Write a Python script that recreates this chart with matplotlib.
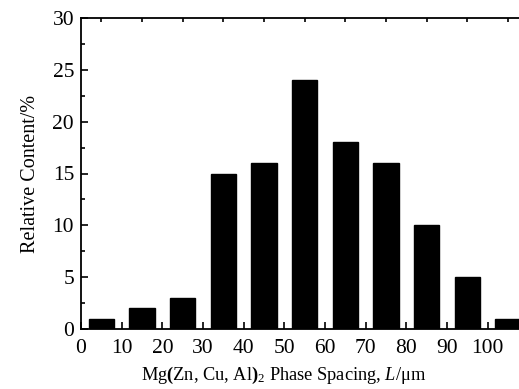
import matplotlib
matplotlib.use('Agg')
import matplotlib.pyplot as plt
from matplotlib.ticker import MultipleLocator

# spacing bins (um) and relative content (%)
spacing = [5, 15, 25, 35, 45, 55, 65, 75, 85, 95, 105]
content = [1, 2, 3, 15, 16, 24, 18, 16, 10, 5, 1]

plt.rcParams['font.family'] = 'Liberation Serif'
plt.rcParams['mathtext.fontset'] = 'custom'
plt.rcParams['mathtext.rm'] = 'Liberation Serif'
plt.rcParams['mathtext.it'] = 'Liberation Serif:italic'
plt.rcParams['mathtext.bf'] = 'Liberation Serif:bold'

fig = plt.figure(figsize=(5.19, 3.89), dpi=100)
ax = fig.add_axes([81/519, 1 - 329/389, 1 - 81/519, (329 - 18)/389])

ax.bar(spacing, content, width=6.2, color='black', edgecolor='black')

ax.set_xlim(0, 107.7)
ax.set_ylim(0, 30)
ax.xaxis.set_major_locator(MultipleLocator(10))
ax.xaxis.set_minor_locator(MultipleLocator(5))
ax.yaxis.set_major_locator(MultipleLocator(5))
ax.yaxis.set_minor_locator(MultipleLocator(2.5))

for s in ['left', 'bottom', 'top']:
    ax.spines[s].set_linewidth(1.3)
ax.spines['right'].set_visible(False)

ax.tick_params(which='both', direction='in', top=True, right=False, width=1.2)
ax.tick_params(which='major', length=5, labelsize=15.5)
ax.tick_params(axis='y', which='major', pad=5)
ax.tick_params(axis='x', which='major', pad=7)
ax.tick_params(which='minor', length=3)
ax.tick_params(axis='x', which='major', top=False)

ax.set_xlabel(r'Mg$\mathbf{(}$Zn, Cu, Al$\mathbf{)}_2$ Phase Spacing, $L$/$\mathrm{\mu}$m', fontsize=13.2)
ax.xaxis.set_label_coords((284 - 81) / 438, -0.115)
ax.set_ylabel('Relative Content/%', fontsize=14.5)
ax.yaxis.set_label_coords(-0.094, 0.5)

plt.savefig('out.png', dpi=100)
